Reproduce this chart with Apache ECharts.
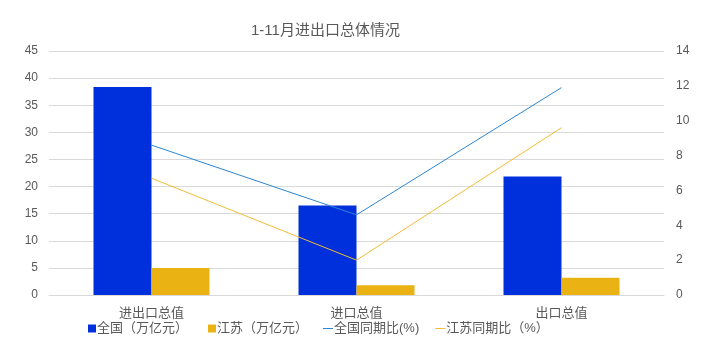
<!DOCTYPE html>
<html><head><meta charset="utf-8">
<script src="https://cdn.jsdelivr.net/npm/echarts@6/dist/echarts.min.js"></script>
<style>html,body{margin:0;padding:0;background:#fff}#c{width:708px;height:355px}</style>
</head><body><div id="c"></div>
<script>
const categories = ['进出口总值', '进口总值', '出口总值'];
const nationalValue = [38.34, 16.5, 21.84];
const jiangsuValue = [5.0, 1.8, 3.2];
const nationalGrowth = [8.6, 4.6, 11.9];
const jiangsuGrowth = [6.7, 2.0, 9.6];
const leftTicks = {min: 0, max: 45, interval: 5};
const rightTicks = {min: 0, max: 14, interval: 2};

const FONT = '"Liberation Sans", "Noto Sans CJK SC", sans-serif';
const GREY = '#595959';
const chart = echarts.init(document.getElementById('c'));
chart.setOption({
  animation: false,
  textStyle: {fontFamily: FONT},
  title: {text: '1-11月进出口总体情况', left: 246, top: 18,
    textStyle: {fontSize: 15, fontWeight: 'normal', color: GREY, fontFamily: FONT}},
  legend: [
    {data: [{name: '全国（万亿元）', icon: 'rect'}, {name: '江苏（万亿元）', icon: 'rect'}],
     left: 83, top: 317, itemWidth: 8, itemHeight: 8, itemGap: 20,
     textStyle: {fontSize: 13, color: GREY, fontFamily: FONT, padding: [0,0,0,-4]}},
    {data: [{name: '全国同期比(%)', icon: 'rect'}, {name: '江苏同期比（%）', icon: 'rect'}],
     left: 318, top: 317, itemWidth: 10, itemHeight: 1, itemGap: 16,
     textStyle: {fontSize: 13, color: GREY, fontFamily: FONT, padding: [0,0,0,-4]}}
  ],
  grid: {left: 49, right: 44, top: 51, bottom: 60},
  xAxis: {type: 'category', data: categories,
    axisLine: {lineStyle: {color: '#d9d9d9'}}, axisTick: {show: false},
    axisLabel: {color: GREY, fontSize: 13, margin: 12, fontFamily: FONT}},
  yAxis: [
    {type: 'value', min: leftTicks.min, max: leftTicks.max, interval: leftTicks.interval,
     axisLine: {show: false}, axisTick: {show: false},
     axisLabel: {color: GREY, fontSize: 12, margin: 11, fontFamily: FONT},
     splitLine: {lineStyle: {color: '#d9d9d9'}}},
    {type: 'value', min: rightTicks.min, max: rightTicks.max, interval: rightTicks.interval,
     axisLine: {show: false}, axisTick: {show: false},
     axisLabel: {color: GREY, fontSize: 12, margin: 12, fontFamily: FONT},
     splitLine: {show: false}}
  ],
  series: [
    {name: '全国（万亿元）', type: 'bar', data: nationalValue, barWidth: 58, barGap: '0%',
     itemStyle: {color: '#0030DC'}},
    {name: '江苏（万亿元）', type: 'bar', data: jiangsuValue, barWidth: 58, barGap: '0%',
     itemStyle: {color: '#EBB214'}},
    {name: '全国同期比(%)', type: 'line', yAxisIndex: 1, data: nationalGrowth,
     showSymbol: false, symbol: 'none', lineStyle: {width: 1, color: '#2C86D1'}, itemStyle: {color: '#2C86D1'}},
    {name: '江苏同期比（%）', type: 'line', yAxisIndex: 1, data: jiangsuGrowth,
     showSymbol: false, symbol: 'none', lineStyle: {width: 1, color: '#F2BC35'}, itemStyle: {color: '#F2BC35'}}
  ]
});
</script></body></html>
